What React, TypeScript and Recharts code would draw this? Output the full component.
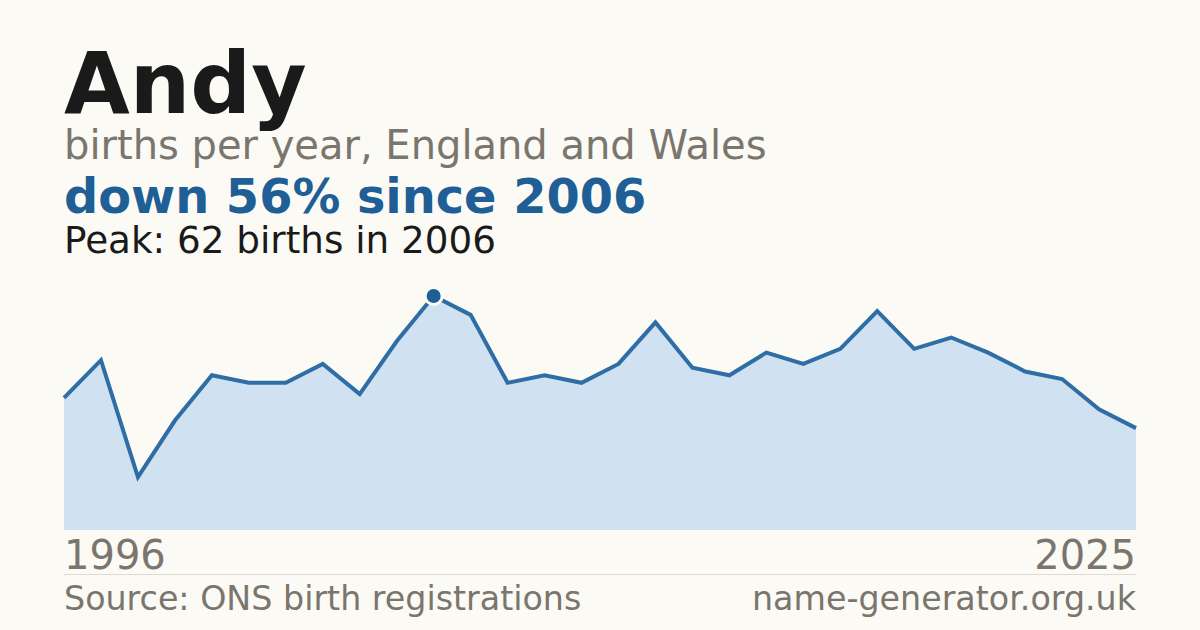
import { Area, AreaChart, XAxis, YAxis } from "recharts";

const years = [
  1996, 1997, 1998, 1999, 2000, 2001, 2002, 2003, 2004, 2005,
  2006, 2007, 2008, 2009, 2010, 2011, 2012, 2013, 2014, 2015,
  2016, 2017, 2018, 2019, 2020, 2021, 2022, 2023, 2024, 2025,
];
const births = [
  35, 45, 14, 29, 41, 39, 39, 44, 36, 50,
  62, 57, 39, 41, 39, 44, 55, 43, 41, 47,
  44, 48, 58, 48, 51, 47, 42, 40, 32, 27,
];
const firstLabel = "1996";
const lastLabel = "2025";

const data = years.map((year, i) => ({ year, births: births[i] }));
const peakIndex = births.indexOf(Math.max(...births));

const BG = "#fbfaf5";
const BLUE = "#1f5f96";
const GREY = "#7a756d";
const FONT = "DejaVu Sans";

function PeakDot(props: any) {
  const { cx, cy, index } = props;
  if (index !== peakIndex) return <g key={`d${index}`} />;
  return <circle key={`d${index}`} cx={cx} cy={cy} r={8.5} fill={BLUE} stroke={BG} strokeWidth={3} />;
}

export default function App() {
  return (
    <div style={{ position: "absolute", left: 0, top: 0, width: 1200, height: 630, background: BG, overflow: "hidden" }}>
      <div style={{ position: "absolute", left: 0, top: 0 }}>
        <AreaChart width={1200} height={630} data={data} margin={{ top: 296, right: 64, bottom: 100, left: 64 }}>
          <XAxis dataKey="year" hide />
          <YAxis hide domain={[0, 62]} />
          <Area
            type="linear"
            dataKey="births"
            stroke="#2f6ea5"
            strokeWidth={4}
            fill="#d0e1f1"
            fillOpacity={1}
            dot={PeakDot}
            activeDot={false}
            isAnimationActive={false}
          />
        </AreaChart>
      </div>
      <svg width={1200} height={630} style={{ position: "absolute", left: 0, top: 0, pointerEvents: "none" }}>
        <g fontFamily={FONT}>
          <text x={64} y={113} fontSize={85} fontWeight="bold" fill="#1a1a1a">Andy</text>
          <text x={64} y={159} fontSize={40} fill={GREY}>births per year, England and Wales</text>
          <text x={64} y={213} fontSize={47.8} fontWeight="bold" fill={BLUE}>down 56% since 2006</text>
          <text x={64} y={253} fontSize={37.3} fill="#1a1a1a">Peak: 62 births in 2006</text>
          <text x={64} y={569} fontSize={40} fill={GREY}>{firstLabel}</text>
          <text x={1136} y={569} fontSize={40} fill={GREY} textAnchor="end">{lastLabel}</text>
          <line x1={64} x2={1136} y1={574.5} y2={574.5} stroke="#dedbd3" strokeWidth={1} />
          <text x={64} y={610} fontSize={33.3} fill={GREY}>Source: ONS birth registrations</text>
          <text x={1136} y={610} fontSize={33.3} fill={GREY} textAnchor="end">name-generator.org.uk</text>
        </g>
      </svg>
    </div>
  );
}
